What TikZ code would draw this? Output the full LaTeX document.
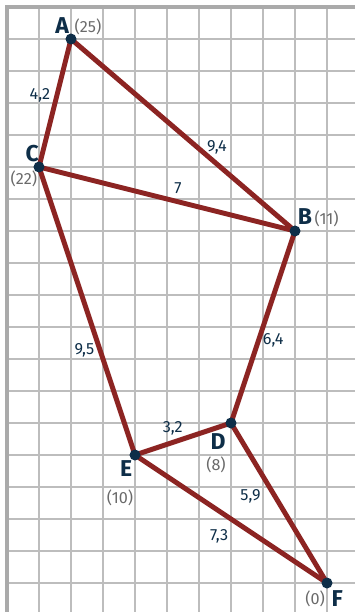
\documentclass[tikz,border=0pt]{standalone}
\usepackage{fontspec}
\setmainfont{Fira Sans}
\usetikzlibrary{backgrounds}

\definecolor{navy}{HTML}{0E2E48}
\definecolor{wine}{HTML}{8C2422}
\definecolor{gridgray}{HTML}{BDBDBD}
\definecolor{textgray}{HTML}{6A6A6A}

\begin{document}
\begin{tikzpicture}[x=0.5cm,y=-0.5cm]

			\tikzset{
				point/.style={
					circle,
					fill=navy,
					inner sep=0pt,
					minimum size=4.9pt
				},
				pointname/.style={
					anchor=base,
					inner sep=0pt,
					text=navy,
					font=\fontsize{10.2}{11}\selectfont\bfseries
				},
				distlabel/.style={
					anchor=base,
					inner sep=0pt,
					text=textgray,
					font=\fontsize{7.2}{8}\selectfont
				},
				weight/.style={
					anchor=base,
					inner sep=0pt,
					text=navy,
					font=\fontsize{7.2}{8}\selectfont
				},
				edge/.style={
					draw=wine,
					line width=2.2pt
				},
				gridline/.style={
					draw=gridgray,
					line width=0.7pt
				},
				gridborder/.style={
					draw=gridgray!90!black,
					line width=1.4pt
				}
			}

			\useasboundingbox (-0.21875,-0.21875) rectangle (10.875,18.906);

			% POINTS
			\node[point] (A) at (2,1) {};
			\node[point] (B) at (9,7) {};
			\node[point] (C) at (1,5) {};
			\node[point] (D) at (7,13) {};
			\node[point] (E) at (4,14) {};
			\node[point] (F) at (10,18) {};

			\begin{pgfonlayer}{background}
				% GRID
				\foreach \gx in {1,...,10}
					\draw[gridline] (\gx,0) -- (\gx,18.906);
				\foreach \gy in {1,...,18}
					\draw[gridline] (0,\gy) -- (10.875,\gy);
				\draw[gridborder] (0,18.906) -- (0,0) -- (10.875,0);

				% EDGES
				\draw[edge] (A.center) -- (C.center);
				\draw[edge] (A.center) -- (B.center);
				\draw[edge] (C.center) -- (B.center);
				\draw[edge] (B.center) -- (D.center);
				\draw[edge] (C.center) -- (E.center);
				\draw[edge] (E.center) -- (D.center);
				\draw[edge] (D.center) -- (F.center);
				\draw[edge] (E.center) -- (F.center);
			\end{pgfonlayer}

			% POINT NAMES
			\node[pointname] (nameA) at (1.72,0.82) {A};
			\node[pointname] (nameB) at (9.31,6.81) {B};
			\node[pointname] (nameC) at (0.79,4.83) {C};
			\node[pointname] (nameD) at (6.60,13.82) {D};
			\node[pointname] (nameE) at (3.72,14.68) {E};
			\node[pointname] (nameF) at (10.32,18.72) {F};

			% DISTANCES TO F
			\node[distlabel] (distA) at (2.53,0.79) {(25)};
			\node[distlabel] (distB) at (9.99,6.79) {(11)};
			\node[distlabel] (distC) at (0.53,5.56) {(22)};
			\node[distlabel] (distD) at (6.53,14.49) {(8)};
			\node[distlabel] (distE) at (3.53,15.53) {(10)};
			\node[distlabel] (distF) at (9.63,18.66) {(0)};

			% WEIGHTS
			\node[weight] (wAC) at (1.03,2.875) {4,2};
			\node[weight] (wAB) at (6.56,4.53) {9,4};
			\node[weight] (wCB) at (5.34,5.82) {7};
			\node[weight] (wBD) at (8.32,10.54) {6,4};
			\node[weight] (wCE) at (2.42,10.85) {9,5};
			\node[weight] (wED) at (5.18,13.29) {3,2};
			\node[weight] (wDF) at (7.61,15.43) {5,9};
			\node[weight] (wEF) at (6.63,16.66) {7,3};

		\end{tikzpicture}
\end{document}
